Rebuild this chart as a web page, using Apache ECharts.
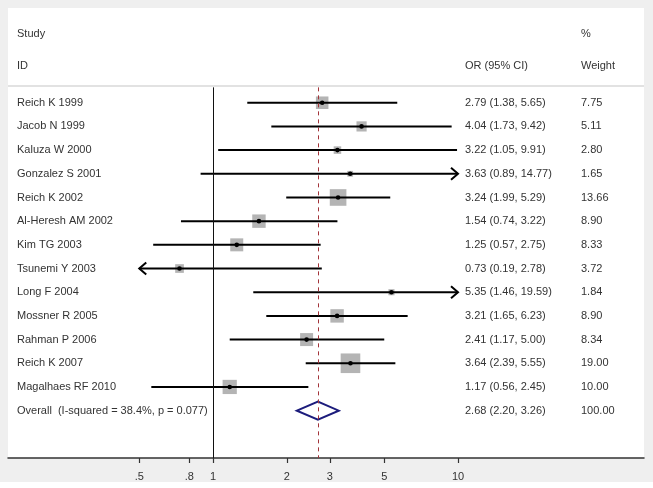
<!DOCTYPE html>
<html>
<head>
<meta charset="utf-8">
<script src="https://cdn.jsdelivr.net/npm/echarts@6/dist/echarts.min.js"></script>
<style>
  html, body { margin: 0; padding: 0; background: #fff; }
  #chart { width: 653px; height: 482px; }
</style>
</head>
<body>
<div id="chart"></div>
<script>
// study rows, top to bottom
const studies = [
  "Reich K 1999", "Jacob N 1999", "Kaluza W 2000", "Gonzalez S 2001",
  "Reich K 2002", "Al-Heresh AM 2002", "Kim TG 2003", "Tsunemi Y 2003",
  "Long F 2004", "Mossner R 2005", "Rahman P 2006", "Reich K 2007",
  "Magalhaes RF 2010",
];
const oddsRatios = [2.79, 4.04, 3.22, 3.63, 3.24, 1.54, 1.25, 0.73, 5.35, 3.21, 2.41, 3.64, 1.17];
const ciLower = [1.38, 1.73, 1.05, 0.89, 1.99, 0.74, 0.57, 0.19, 1.46, 1.65, 1.17, 2.39, 0.56];
const ciUpper = [5.65, 9.42, 9.91, 14.77, 5.29, 3.22, 2.75, 2.78, 19.59, 6.23, 5.00, 5.55, 2.45];
const weights = [7.75, 5.11, 2.80, 1.65, 13.66, 8.90, 8.33, 3.72, 1.84, 8.90, 8.34, 19.00, 10.00];

const overallLabel = "Overall  (I-squared = 38.4%, p = 0.077)";
const overallOr = 2.68;
const overallLower = 2.20;
const overallUpper = 3.26;
const overallWeight = 100.0;

const xTicks = [0.5, 0.8, 1, 2, 3, 5, 10];
const nullValue = 1;
// CIs are cut (with an arrow) at the plotted range
const clipLow = 0.5;
const clipHigh = 10;

const overallRow = studies.length;
const lineTop = -0.65;
const font = "'Liberation Sans', Arial, sans-serif";
const textColor = "#333";

const rows = studies.map((s, i) => [i, oddsRatios[i], ciLower[i], ciUpper[i], weights[i]]);
const textRows = studies
  .map((s, i) => [i, oddsRatios[i], ciLower[i], ciUpper[i], weights[i], s])
  .concat([[overallRow, overallOr, overallLower, overallUpper, overallWeight, overallLabel]]);

function arrowHead(tip, dir) {
  // dir: -1 points left, 1 points right
  return {
    type: "polyline",
    shape: { points: [[tip[0] - dir * 7, tip[1] - 6], tip, [tip[0] - dir * 7, tip[1] + 6]] },
    style: { stroke: "#000", lineWidth: 2, fill: null },
  };
}

function renderStudy(params, api) {
  const i = api.value(0);
  const or = api.value(1);
  const lo = api.value(2);
  const hi = api.value(3);
  const w = api.value(4);
  const p0 = api.coord([Math.max(lo, clipLow), i]);
  const p1 = api.coord([Math.min(hi, clipHigh), i]);
  const pc = api.coord([or, i]);
  const s = 4.5 * Math.sqrt(w);
  const children = [
    {
      type: "rect",
      shape: { x: pc[0] - s / 2, y: pc[1] - s / 2, width: s, height: s },
      style: { fill: "#b4b4b4" },
    },
    {
      type: "line",
      shape: { x1: p0[0], y1: p0[1], x2: p1[0], y2: p1[1] },
      style: { stroke: "#000", lineWidth: 2 },
    },
  ];
  if (lo < clipLow) children.push(arrowHead(p0, -1));
  if (hi > clipHigh) children.push(arrowHead(p1, 1));
  children.push({
    type: "circle",
    shape: { cx: pc[0], cy: pc[1], r: 2.3 },
    style: { fill: "#000" },
  });
  return { type: "group", children };
}

function renderDiamond(params, api) {
  const i = api.value(0);
  const pl = api.coord([api.value(2), i]);
  const pr = api.coord([api.value(3), i]);
  const pc = api.coord([api.value(1), i]);
  return {
    type: "polygon",
    shape: { points: [pl, [pc[0], pc[1] - 9], pr, [pc[0], pc[1] + 9]] },
    style: { stroke: "#1c1c7c", lineWidth: 2, fill: null },
  };
}

function renderText(params, api) {
  const i = params.dataIndex;
  const r = textRows[i];
  const y = api.coord([1, r[0]])[1];
  const base = { font: "11px " + font, fill: textColor, verticalAlign: "middle" };
  const ci = r[1].toFixed(2) + " (" + r[2].toFixed(2) + ", " + r[3].toFixed(2) + ")";
  return {
    type: "group",
    children: [
      { type: "text", style: Object.assign({ x: 17, y, text: r[5] }, base) },
      { type: "text", style: Object.assign({ x: 465, y, text: ci }, base) },
      { type: "text", style: Object.assign({ x: 581, y, text: r[4].toFixed(2) }, base) },
    ],
  };
}

const chart = echarts.init(document.getElementById("chart"));
chart.setOption({
  animation: false,
  backgroundColor: "#efefef",
  textStyle: { fontFamily: font },
  grid: {
    left: 8, right: 9, top: 8, bottom: 24,
    show: true, backgroundColor: "#fff", borderWidth: 0,
  },
  xAxis: {
    type: "log",
    logBase: 10,
    min: 0.14563,
    max: 57.43,
    axisLine: { onZero: false, lineStyle: { color: "#333", width: 1.5 } },
    axisTick: { show: true, length: 5, lineStyle: { color: "#333", width: 1.2 }, customValues: xTicks },
    axisLabel: {
      customValues: xTicks,
      color: textColor,
      fontSize: 11,
      margin: 13,
      formatter: (v) => (v < 1 ? String(+v.toFixed(2)).replace(/^0/, "") : String(+v.toFixed(2))),
    },
    splitLine: { show: false },
  },
  yAxis: {
    type: "value",
    inverse: true,
    min: -4,
    max: 15,
    show: false,
  },
  graphic: [
    { type: "text", left: 17, top: 28, style: { text: "Study", font: "11px " + font, fill: textColor } },
    { type: "text", left: 17, top: 60, style: { text: "ID", font: "11px " + font, fill: textColor } },
    { type: "text", left: 465, top: 60, style: { text: "OR (95% CI)", font: "11px " + font, fill: textColor } },
    { type: "text", left: 581, top: 28, style: { text: "%", font: "11px " + font, fill: textColor } },
    { type: "text", left: 581, top: 60, style: { text: "Weight", font: "11px " + font, fill: textColor } },
    {
      type: "line",
      shape: { x1: 8, y1: 86, x2: 644, y2: 86 },
      style: { stroke: "#d8d8d8", lineWidth: 1.5 },
    },
  ],
  series: [
    {
      type: "custom",
      name: "reference lines",
      data: [],
      markLine: {
        silent: true,
        symbol: "none",
        label: { show: false },
        data: [
          [
            { coord: [nullValue, lineTop], lineStyle: { color: "#111", width: 1, type: "solid" } },
            { coord: [nullValue, 15] },
          ],
          [
            { coord: [overallOr, lineTop], lineStyle: { color: "#a3343a", width: 1, type: [4, 4] } },
            { coord: [overallOr, 15] },
          ],
        ],
      },
      renderItem: () => null,
    },
    {
      type: "custom",
      name: "studies",
      data: rows,
      encode: { x: [1, 2, 3], y: 0 },
      renderItem: renderStudy,
    },
    {
      type: "custom",
      name: "overall",
      data: [[overallRow, overallOr, overallLower, overallUpper]],
      encode: { x: [1, 2, 3], y: 0 },
      renderItem: renderDiamond,
    },
    {
      type: "custom",
      name: "labels",
      data: textRows.map((r) => [r[1], r[0]]),
      encode: { x: 0, y: 1 },
      renderItem: renderText,
    },
  ],
});
</script>
</body>
</html>
